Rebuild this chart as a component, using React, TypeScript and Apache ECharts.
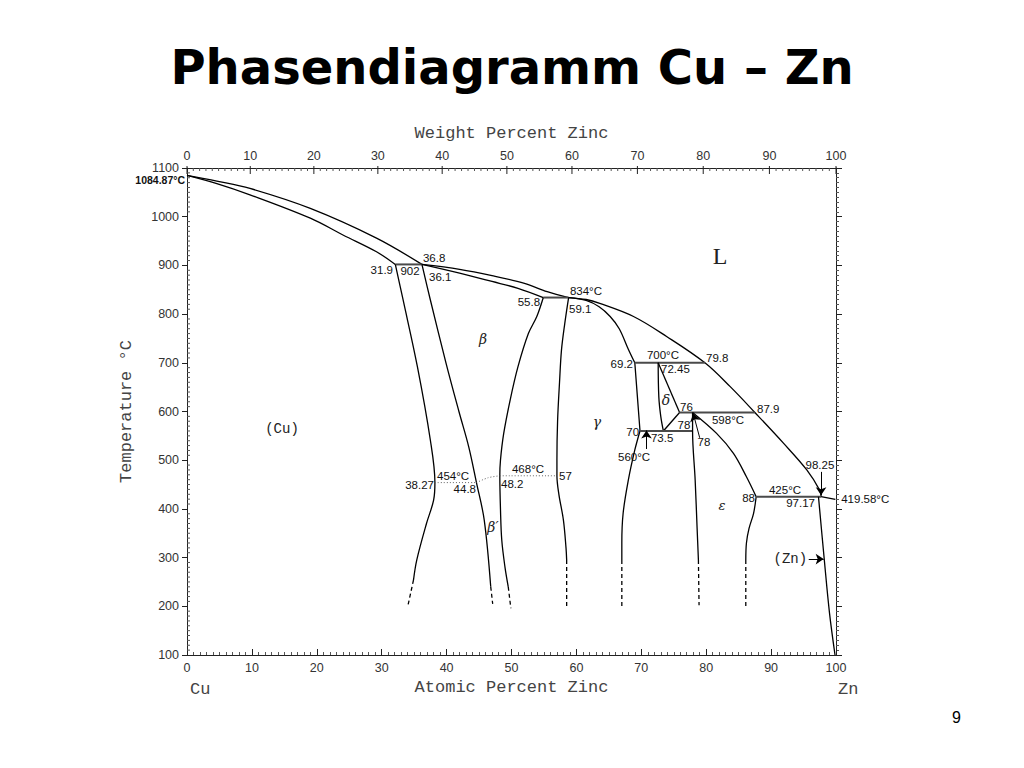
import React, { useEffect, useRef } from "react";
import * as echarts from "echarts";

// ---------- axis ranges & tick labels ----------
const X_MIN = 0;
const X_MAX = 100;
const Y_MIN = 100;
const Y_MAX = 1100;
const WEIGHT_TICK_LABELS = [0, 10, 20, 30, 40, 50, 60, 70, 80, 90, 100];

// ---------- phase boundaries (atomic % Zn, °C) ----------
const CU_LIQUIDUS = [[0, 1084.87], [4.6, 1073], [9.7, 1058], [19, 1017], [29.2, 956], [36.2, 902]];
const CU_SOLIDUS = [[0, 1084.87], [4.6, 1068], [9.7, 1045], [19, 997], [24.1, 962], [29.2, 928], [32.1, 902]];
const PERITECTIC_902 = [[32.1, 902], [36.2, 902]];
const LIQUIDUS_BETA = [[36.2, 902], [42, 892], [47, 879], [52, 863], [55.5, 846], [58.8, 834]];
const SOLIDUS_BETA = [[36.2, 902], [42, 884], [47, 867], [51, 853], [54.9, 834]];
const PERITECTIC_834 = [[54.9, 834], [58.8, 834]];
const LIQUIDUS_ZN = [[58.8, 834], [61.5, 830], [63.6, 822], [68.8, 795], [73.9, 754], [79.8, 700], [83.7, 651], [87.5, 598], [91.9, 535], [95.5, 480], [97.5, 438], [97.7, 425]];
const LIQUIDUS_ZN_END = [[97.7, 425], [99.9, 419.58]];
const GAMMA_SOLIDUS = [[58.8, 834], [61.5, 828], [63.5, 815], [65.2, 795], [66.6, 770], [68.0, 728], [69.0, 700]];
const ALPHA_SOLVUS = [[32.1, 902], [33.3, 829], [35.5, 692], [37.5, 541], [38.2, 454], [38.0, 418], [36.9, 370], [35.4, 295], [34.9, 254]];
const ALPHA_SOLVUS_DASH = [[34.9, 254], [34.0, 199]];
const BETA_LEFT = [[36.2, 902], [37.5, 829], [39.9, 700], [41.9, 600], [43.4, 528], [44.6, 454], [45.8, 377], [46.8, 240]];
const BETA_LEFT_DASH = [[46.8, 240], [47.1, 205]];
const BETA_RIGHT = [[54.9, 834], [53.9, 795], [52.6, 760], [51.0, 692], [49.8, 624], [48.8, 555], [48.3, 500], [48.2, 468], [48.3, 400], [48.5, 336], [49.0, 280], [49.5, 240]];
const BETA_RIGHT_DASH = [[49.5, 240], [49.9, 196]];
const GAMMA_LEFT = [[58.8, 834], [58.2, 780], [57.7, 726], [57.4, 660], [57.1, 580], [57.0, 500], [57.0, 468], [57.3, 430], [58.0, 377], [58.4, 320], [58.5, 295]];
const GAMMA_LEFT_DASH = [[58.5, 295], [58.5, 196]];
const GAMMA_RIGHT_UPPER = [[69.0, 700], [69.4, 630], [69.8, 560]];
const GAMMA_RIGHT_LOWER = [[69.8, 560], [69.0, 521], [68.0, 459], [67.2, 391], [67.0, 330], [67.0, 295]];
const GAMMA_RIGHT_DASH = [[67.0, 295], [67.0, 199]];
const ISO_700 = [[69.0, 700], [79.8, 700]];
const DELTA_LEFT = [[72.6, 700], [72.7, 630], [73.0, 590], [73.4, 560]];
const DELTA_RIGHT = [[72.6, 700], [75.9, 598]];
const DELTA_BOTTOM = [[73.4, 560], [75.9, 598]];
const ISO_598 = [[75.9, 598], [87.5, 598]];
const ISO_560 = [[69.8, 560], [77.9, 560]];
const EPS_LEFT = [[77.9, 598], [77.9, 560], [78.3, 459], [78.6, 360], [78.8, 295]];
const EPS_LEFT_DASH = [[78.8, 295], [78.9, 202]];
const EPS_RIGHT_UPPER = [[77.9, 598], [81.6, 555], [84.2, 514], [86.2, 466], [87.7, 425]];
const EPS_RIGHT_LOWER = [[87.7, 425], [87.3, 391], [86.6, 360], [86.2, 330], [86.1, 295]];
const EPS_RIGHT_DASH = [[86.1, 295], [86.1, 199]];
const ISO_425 = [[87.7, 425], [97.7, 425]];
const ZN_SOLVUS = [[97.3, 425], [98.2, 295], [99.0, 186], [99.85, 100]];
const ORDER_454 = [[38.2, 454], [44.6, 454]];
const ORDER_TRANSITION = [[44.6, 454], [46.4, 464], [48.2, 468]];
const ORDER_468 = [[48.2, 468], [57.0, 468]];

// ---------- arrows (from, to) ----------
const ARROWS = [
  [[70.8, 523], [70.8, 561]],
  [[79.0, 546], [78.0, 596]],
  [[97.7, 476], [97.7, 428]],
  [[95.8, 297], [98.1, 297]],
];

// ---------- value annotations ----------
const VALUE_TEXTS = ["1084.87°C", "36.8", "31.9", "902", "36.1", "834°C", "55.8", "59.1", "69.2", "700°C", "79.8", "72.45", "76", "598°C", "87.9", "78", "78", "70", "73.5", "560°C", "98.25", "425°C", "97.17", "88", "419.58°C", "38.27", "454°C", "44.8", "468°C", "48.2", "57"];
const VALUE_AT = [-0.3, 36.36, 31.74, 34.36, 37.29, 59.0, 54.4, 58.86, 68.72, 73.34, 79.97, 73.04, 75.96, 83.36, 87.83, 76.58, 79.66, 69.65, 71.49, 68.88, 97.53, 92.14, 96.76, 87.52, 100.8, 38.06, 38.52, 44.53, 52.54, 48.38, 57.32];
const VALUE_TEMP = [1075.5, 915.2, 890.5, 888.5, 876.2, 847.4, 824.8, 810.5, 697.5, 716, 709.9, 687.3, 609.2, 582.5, 605.1, 572.3, 537.4, 557.9, 545.6, 506.6, 490.1, 438.8, 412.1, 422.4, 420.3, 449.1, 467.6, 440.9, 481.9, 451.1, 467.6];

// ---------- phase names ----------
const PHASE_TEXTS = ["β", "β′", "γ", "δ", "ε", "L", "(Cu)", "(Zn)"];
const PHASE_AT = [45.61, 47.15, 63.17, 73.8, 82.43, 82.13, 14.64, 95.55];
const PHASE_TEMP = [748.9, 362.8, 578.4, 623.6, 406, 919.3, 564, 297.1];

// ---------- styling (kept apart from the data) ----------
const VALUE_ALIGN = ["right", "left", "right", "center", "left", "left", "right", "left", "right", "center", "left", "left", "left", "center", "left", "center", "center", "right", "left", "center", "center", "center", "right", "right", "left", "right", "left", "right", "center", "left", "left"];
const PHASE_FONT = [
  'italic 14px "DejaVu Serif"',
  'italic 14px "DejaVu Serif"',
  'italic 14px "DejaVu Serif"',
  'italic 14px "DejaVu Serif"',
  'italic 13px "DejaVu Serif"',
  '24px "Liberation Serif"',
  '14px "Liberation Mono"',
  '14px "Liberation Mono"',
];
const PHASE_ALIGN = ["center", "center", "center", "center", "center", "center", "center", "right"];

const AXIS_COLOR = "#222";
const LABEL_COLOR = "#333";
const MONO = "Liberation Mono";

function wtToAt(w: number) {
  const zn = w / 65.38;
  const cu = (100 - w) / 63.546;
  return (100 * zn) / (zn + cu);
}

function curve(data: number[][], extra: any = {}) {
  return {
    type: "line",
    data,
    xAxisIndex: 0,
    yAxisIndex: 0,
    showSymbol: false,
    symbol: "none",
    smooth: 0.35,
    silent: true,
    z: 3,
    lineStyle: { color: "#000", width: 1.3 },
    ...extra,
  };
}
const straight = { smooth: false };
const iso = { smooth: false, lineStyle: { color: "#4a4a4a", width: 2 } };
const dashed = { smooth: false, lineStyle: { color: "#000", width: 1.3, type: [4, 3] } };
const dotted = { smooth: 0.3, lineStyle: { color: "#666", width: 1, type: [1, 2] } };

function buildOption() {
  const topTicks: number[][] = [];
  for (let w = 0; w <= 100; w++) topTicks.push([wtToAt(w), Y_MAX, w, 0]);
  const leftMinor: number[][] = [];
  for (let t = Y_MIN + 10; t < Y_MAX; t += 10) if (t % 100 !== 0) leftMinor.push([X_MIN, t, t, 1]);

  const tickSeries = {
    type: "custom",
    coordinateSystem: "cartesian2d",
    xAxisIndex: 0,
    yAxisIndex: 0,
    clip: false,
    silent: true,
    z: 4,
    data: topTicks.concat(leftMinor),
    renderItem: (_p: any, api: any) => {
      const p = api.coord([api.value(0), api.value(1)]);
      const label = api.value(2);
      const kind = api.value(3);
      if (kind === 1) {
        return {
          type: "line",
          shape: { x1: p[0], y1: p[1], x2: p[0] + 3, y2: p[1] },
          style: { stroke: "#555", lineWidth: 1 },
        };
      }
      const major = WEIGHT_TICK_LABELS.indexOf(label) >= 0;
      const children: any[] = [
        {
          type: "line",
          shape: { x1: p[0], y1: p[1] - (major ? 2 : 0), x2: p[0], y2: p[1] + (major ? 6 : 3) },
          style: { stroke: major ? AXIS_COLOR : "#555", lineWidth: 1 },
        },
      ];
      if (major) {
        children.push({
          type: "text",
          x: p[0],
          y: p[1] - 6,
          style: {
            text: String(label),
            font: '12.5px "Liberation Sans"',
            fill: LABEL_COLOR,
            align: "center",
            verticalAlign: "bottom",
            textAlign: "center",
            textVerticalAlign: "bottom",
          },
        });
      }
      return { type: "group", children };
    },
  };

  const valueLabelSeries = {
    type: "custom",
    coordinateSystem: "cartesian2d",
    xAxisIndex: 0,
    yAxisIndex: 0,
    clip: false,
    silent: true,
    z: 6,
    data: VALUE_TEXTS.map((_t, i) => [VALUE_AT[i], VALUE_TEMP[i], i]),
    renderItem: (_p: any, api: any) => {
      const i = api.value(2);
      const p = api.coord([api.value(0), api.value(1)]);
      const first = i === 0;
      return {
        type: "text",
        x: p[0],
        y: p[1],
        style: {
          text: VALUE_TEXTS[i],
          font: first ? 'bold 10.5px "Liberation Sans"' : '11.5px "Liberation Sans"',
          fill: "#111",
          align: VALUE_ALIGN[i],
          verticalAlign: "middle",
          textAlign: VALUE_ALIGN[i],
          textVerticalAlign: "middle",
        },
      };
    },
  };

  const phaseLabelSeries = {
    type: "custom",
    coordinateSystem: "cartesian2d",
    xAxisIndex: 0,
    yAxisIndex: 0,
    clip: false,
    silent: true,
    z: 6,
    data: PHASE_TEXTS.map((_t, i) => [PHASE_AT[i], PHASE_TEMP[i], i]),
    renderItem: (_p: any, api: any) => {
      const i = api.value(2);
      const p = api.coord([api.value(0), api.value(1)]);
      return {
        type: "text",
        x: p[0],
        y: p[1],
        style: {
          text: PHASE_TEXTS[i],
          font: PHASE_FONT[i],
          fill: "#222",
          align: PHASE_ALIGN[i],
          verticalAlign: "middle",
          textAlign: PHASE_ALIGN[i],
          textVerticalAlign: "middle",
        },
      };
    },
  };

  const arrowSeries = {
    type: "lines",
    coordinateSystem: "cartesian2d",
    xAxisIndex: 0,
    yAxisIndex: 0,
    polyline: false,
    silent: true,
    z: 5,
    symbol: ["none", "arrow"],
    symbolSize: 8,
    lineStyle: { color: "#000", width: 1, opacity: 1, curveness: 0 },
    data: ARROWS.map((c) => ({ coords: c })),
  };

  const axisNameStyle = { fontFamily: MONO, fontSize: 17, color: "#444" };
  const plain = (v: number) => String(v);

  return {
    animation: false,
    backgroundColor: "#ffffff",
    grid: { left: 187, top: 168, width: 649, height: 487, containLabel: false, outerBoundsMode: "none" },
    xAxis: [
      {
        type: "value",
        position: "bottom",
        min: X_MIN,
        max: X_MAX,
        interval: 10,
        name: "Atomic Percent Zinc",
        nameLocation: "middle",
        nameGap: 24,
        nameTextStyle: axisNameStyle,
        axisLine: { show: true, onZero: false, lineStyle: { color: AXIS_COLOR, width: 1 } },
        axisTick: { show: true, inside: true, length: 6, lineStyle: { color: AXIS_COLOR } },
        minorTick: { show: true, splitNumber: 10, length: 3, lineStyle: { color: "#555" } },
        axisLabel: { show: true, margin: 6, formatter: plain, fontFamily: "Liberation Sans", fontSize: 12.5, color: LABEL_COLOR, showMinLabel: true, showMaxLabel: true },
        splitLine: { show: false },
        minorSplitLine: { show: false },
      },
      {
        type: "value",
        position: "top",
        min: X_MIN,
        max: X_MAX,
        interval: 10,
        name: "Weight Percent Zinc",
        nameLocation: "middle",
        nameGap: 26,
        nameTextStyle: axisNameStyle,
        axisLine: { show: true, onZero: false, lineStyle: { color: AXIS_COLOR, width: 1 } },
        axisTick: { show: false },
        axisLabel: { show: false },
        splitLine: { show: false },
      },
    ],
    yAxis: [
      {
        type: "value",
        position: "left",
        min: Y_MIN,
        max: Y_MAX,
        interval: 100,
        name: "Temperature °C",
        nameLocation: "middle",
        nameGap: 52,
        nameTextStyle: axisNameStyle,
        axisLine: { show: true, onZero: false, lineStyle: { color: AXIS_COLOR, width: 1 } },
        axisTick: { show: true, inside: false, length: 5, lineStyle: { color: AXIS_COLOR } },
        axisLabel: { show: true, margin: 8, formatter: plain, fontFamily: "Liberation Sans", fontSize: 12.5, color: LABEL_COLOR, showMinLabel: true, showMaxLabel: true },
        splitLine: { show: false },
      },
      {
        type: "value",
        position: "right",
        min: Y_MIN,
        max: Y_MAX,
        interval: 100,
        axisLine: { show: true, onZero: false, lineStyle: { color: AXIS_COLOR, width: 1 } },
        axisTick: { show: true, inside: false, length: 6, lineStyle: { color: AXIS_COLOR } },
        minorTick: { show: true, splitNumber: 10, length: 3, lineStyle: { color: "#555" } },
        axisLabel: { show: false },
        splitLine: { show: false },
        minorSplitLine: { show: false },
      },
    ],
    graphic: [
      {
        type: "text",
        left: "center",
        top: 43,
        style: { text: "Phasendiagramm Cu – Zn", font: 'bold 48px "DejaVu Sans"', fill: "#000" },
      },
      {
        type: "text",
        x: 190,
        y: 681,
        style: { text: "Cu", font: `17px "${MONO}"`, fill: "#444" },
      },
      {
        type: "text",
        x: 838,
        y: 681,
        style: { text: "Zn", font: `17px "${MONO}"`, fill: "#444" },
      },
      {
        type: "text",
        x: 952,
        y: 709,
        style: { text: "9", font: '16px "Liberation Sans"', fill: "#000" },
      },
    ],
    series: [
      curve(CU_LIQUIDUS),
      curve(CU_SOLIDUS),
      curve(PERITECTIC_902, iso),
      curve(LIQUIDUS_BETA),
      curve(SOLIDUS_BETA),
      curve(PERITECTIC_834, iso),
      curve(LIQUIDUS_ZN),
      curve(LIQUIDUS_ZN_END, straight),
      curve(GAMMA_SOLIDUS),
      curve(ALPHA_SOLVUS),
      curve(ALPHA_SOLVUS_DASH, dashed),
      curve(BETA_LEFT),
      curve(BETA_LEFT_DASH, dashed),
      curve(BETA_RIGHT),
      curve(BETA_RIGHT_DASH, dashed),
      curve(GAMMA_LEFT),
      curve(GAMMA_LEFT_DASH, dashed),
      curve(GAMMA_RIGHT_UPPER),
      curve(GAMMA_RIGHT_LOWER),
      curve(GAMMA_RIGHT_DASH, dashed),
      curve(ISO_700, iso),
      curve(DELTA_LEFT),
      curve(DELTA_RIGHT, straight),
      curve(DELTA_BOTTOM, straight),
      curve(ISO_598, iso),
      curve(ISO_560, iso),
      curve(EPS_LEFT),
      curve(EPS_LEFT_DASH, dashed),
      curve(EPS_RIGHT_UPPER),
      curve(EPS_RIGHT_LOWER),
      curve(EPS_RIGHT_DASH, dashed),
      curve(ISO_425, iso),
      curve(ZN_SOLVUS),
      curve(ORDER_454, dotted),
      curve(ORDER_TRANSITION, dotted),
      curve(ORDER_468, dotted),
      arrowSeries,
      tickSeries,
      valueLabelSeries,
      phaseLabelSeries,
    ],
  };
}

export default function App() {
  const ref = useRef<HTMLDivElement>(null);
  useEffect(() => {
    if (!ref.current) return;
    const chart = echarts.init(ref.current, null, { renderer: "svg" });
    chart.setOption(buildOption() as any);
    return () => chart.dispose();
  }, []);
  return (
    <div
      ref={ref}
      style={{ position: "absolute", left: 0, top: 0, width: 1024, height: 768, background: "#fff" }}
    />
  );
}
